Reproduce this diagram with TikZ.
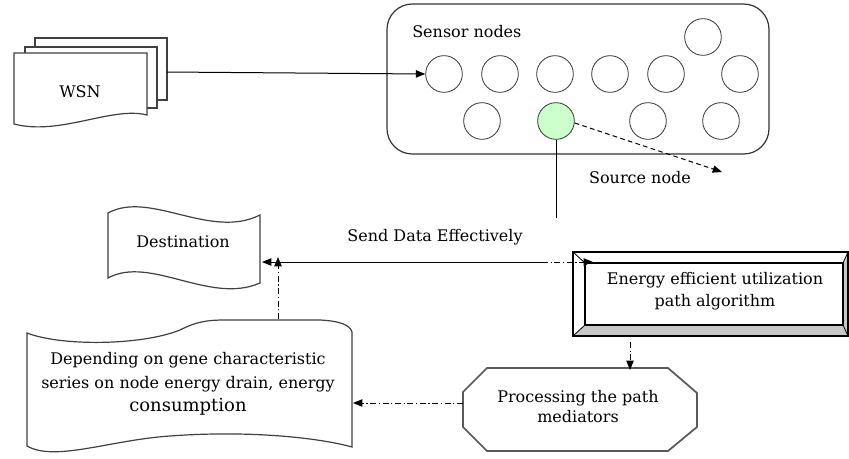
\documentclass[tikz,border=0pt]{standalone}
\usepackage{fontspec}
\setmainfont{DejaVu Serif}
\usetikzlibrary{arrows.meta}
\begin{document}
\begin{tikzpicture}[x=0.75pt,y=-0.75pt,
  lbl/.style={font=\fontsize{12pt}{16pt}\selectfont, inner sep=0pt, align=center},
  sensor/.style={circle, draw=black!80, line width=0.6pt, minimum size=27.5pt, inner sep=0pt, fill=white},
  outline/.style={draw=black!75, line width=0.9pt, fill=white},
  tip/.style={-{Triangle[length=7pt,width=5.5pt]}},
  dashdot/.style={dash pattern=on 4.5pt off 2pt on 0.8pt off 2pt},
  conn/.style={line width=0.75pt, draw=black}]

\useasboundingbox (0,0) rectangle (849,458);

% ---------- WSN document stack ----------
\draw[outline] (35,38) rectangle (167,100);
\draw[outline] (25,47) rectangle (157,108);
\draw[outline] (14,53) -- (147,53) -- (147,115)
  .. controls (112,106) and (60,136) .. (14,124) -- cycle;
\node[lbl] (wsn) at (80,92) {WSN};
\coordinate (wsnE) at (167,72);

% ---------- sensor field ----------
\draw[draw=black!80, line width=0.9pt, rounded corners=19pt] (387,4) rectangle (769,154);
\node[lbl, anchor=west] (sensorlbl) at (412,32) {Sensor nodes};
\node[sensor] (s1) at (444,74) {};
\node[sensor] (s2) at (500,74) {};
\node[sensor] (s3) at (555,74) {};
\node[sensor] (s4) at (610,74) {};
\node[sensor] (s5) at (666,74) {};
\node[sensor] (s6) at (740,74) {};
\node[sensor] (s7) at (703,37) {};
\node[sensor] (s8) at (482,121) {};
\node[sensor, fill={rgb,255:red,204;green,255;blue,204}] (src) at (556,121) {};
\node[sensor] (s9) at (648,121) {};
\node[sensor] (s10) at (721,121) {};

\coordinate (srcEnd) at (722,172);
\coordinate (srcDrop) at (556,218);
\node[lbl] (srclbl) at (640,178) {Source node};

% ---------- destination flag ----------
\draw[outline] (108,213) .. controls (150,190) and (210,240) .. (260,215)
  -- (260,283) .. controls (210,305) and (150,255) .. (108,278) -- cycle;
\node[lbl] (dest) at (183,242) {Destination};
\coordinate (destE) at (262,262);

\node[lbl] (sendlbl) at (435,237) {Send Data Effectively};
\coordinate (split) at (542,262);

% ---------- energy efficient box (bevelled frame) ----------
\fill[black!22] (573,336) -- (848,336) -- (848,252) -- (843,263) -- (843,325) -- (585,325) -- cycle;
\draw[line width=0.9pt] (573,252) rectangle (848,336);
\draw[line width=0.9pt] (585,263) rectangle (843,325);
\draw[line width=0.6pt] (573,252) -- (585,263) (848,252) -- (843,263)
  (573,336) -- (585,325) (848,336) -- (843,325);
\node[lbl, font=\fontsize{12pt}{16.5pt}\selectfont] (energy) at (715,291)
  {Energy efficient utilization\\path algorithm};
\coordinate (energyIn) at (593,262);
\coordinate (energyS) at (630,342);

% ---------- processing octagon ----------
\draw[draw=black!65, line width=1.3pt, fill=white]
  (487,368) -- (668,368) -- (697,393) -- (697,427) -- (668,451)
  -- (487,451) -- (463,427) -- (463,392) -- cycle;
\node[lbl, font=\fontsize{12pt}{15pt}\selectfont] (proc) at (578,407)
  {Processing the path\\mediators};
\coordinate (procN) at (630,370);
\coordinate (procW) at (463,403);

% ---------- gene characteristic document ----------
\draw[outline] (27,333) .. controls (60,346) and (140,346) .. (180,330)
  .. controls (196,322) and (206,320) .. (225,320) -- (320,320)
  .. controls (340,321) and (350,325) .. (352,332)
  -- (352,447) .. controls (320,438) and (250,430) .. (170,436)
  .. controls (110,440) and (55,462) .. (27,446) -- cycle;
\node[lbl, font=\fontsize{12pt}{17.5pt}\selectfont] (gene) at (188,384)
  {Depending on gene characteristic\\series on node energy drain, energy\\{\fontsize{13.5pt}{17pt}\selectfont consumption}};
\coordinate (geneN) at (278,319);
\coordinate (geneUp) at (278,257);
\coordinate (geneE) at (353,403);

% ---------- connectors ----------
\draw[conn, tip] (wsnE) -- (s1.west);
\draw[conn, tip, dash pattern=on 3.5pt off 2.5pt] (src.east) ++(0,2) -- (srcEnd);
\draw[conn] (src.south) -- (srcDrop);
\draw[conn, tip] (split) -- (destE);
\draw[conn, tip, dashdot] (split) -- (energyIn);
\draw[conn, tip, dashdot] (geneN) -- (geneUp);
\draw[conn, tip, dashdot] (energyS) -- (procN);
\draw[conn, tip, dashdot] (procW) -- (geneE);

\end{tikzpicture}
\end{document}
